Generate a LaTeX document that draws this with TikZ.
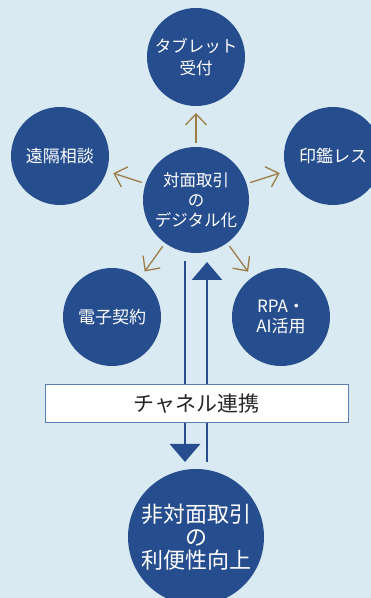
\documentclass[tikz,border=0pt]{standalone}
\usepackage{fontspec}
\setmainfont{Noto Sans CJK JP}
\usetikzlibrary{arrows.meta,calc,positioning}
\definecolor{bgblue}{HTML}{DAEAF3}
\definecolor{navy}{HTML}{264E8E}
\definecolor{gold}{HTML}{9B7D45}
\definecolor{boxline}{HTML}{5A7DB5}

\begin{document}
\begin{tikzpicture}[x=1pt,y=1pt,
    circ/.style={circle,fill=navy,text=white,inner sep=0pt,outer sep=0pt,
      minimum size=98pt,align=center,font=\fontsize{17}{20}\selectfont},
    garr/.style={draw=gold,line width=1.3pt,-{Straight Barb[width=21pt,length=11pt]},
      shorten <=4pt,shorten >=7pt},
    barr/.style={draw=navy,line width=2.7pt,-{Triangle[width=30pt,length=18pt]}}]
 \useasboundingbox[fill=bgblue] (0,0) rectangle (371,598);
 \node[circ,minimum size=106pt,font=\fontsize{16.5}{20}\selectfont] (dig) at (196,398)
  {対面取引\\の\\デジタル化};
 \node[circ,above=41pt of dig,font=\fontsize{16.5}{22}\selectfont] (tab) {タブレット\\受付};
 \node[circ] (enk) at (60,442) {遠隔相談};
 \node[circ] (ink) at (333,442) {印鑑レス};
 \node[circ] (den) at (112,281) {電子契約};
 \node[circ] (rpa) at (281,281) {RPA・\\AI活用};
 \node[circ,minimum size=136pt,font=\fontsize{22}{23}\selectfont] (hi) at (196,61)
  {非対面取引\\の\\利便性向上};
 \path[garr] foreach \X in {tab,enk,ink,den,rpa} {(dig) edge (\X)};
 % channel arrows pass behind the box
 \coordinate (dA) at ($(dig.south)+(-11,-8)$);
 \coordinate (dB) at ($(hi.north)+(-11,7)$);
 \coordinate (uA) at ($(hi.north)+(11,7)$);
 \coordinate (uB) at ($(dig.south)+(11,-9)$);
 \draw[barr] (dA) -- (dB);
 \draw[barr] (uA) -- (uB);
 \node[draw=boxline,fill=white,line width=1pt,minimum width=303pt,minimum height=38pt,
   text=black!85,font=\fontsize{21}{21}\selectfont] (ch) at (196.5,194) {チャネル連携};
\end{tikzpicture}
\end{document}
